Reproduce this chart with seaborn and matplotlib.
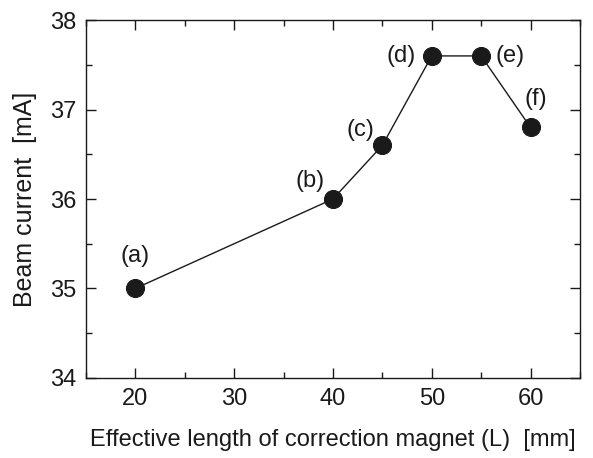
import matplotlib
matplotlib.use("Agg")
import matplotlib.pyplot as plt
import seaborn as sns
import pandas as pd
from matplotlib.ticker import MultipleLocator

length_mm = [20, 40, 45, 50, 55, 60]
beam_current = [35.0, 36.0, 36.6, 37.6, 37.6, 36.8]
labels = ["(a)", "(b)", "(c)", "(d)", "(e)", "(f)"]

sns.set_theme(style="ticks")
plt.rcParams['font.family'] = ['Liberation Sans', 'DejaVu Sans']

df = pd.DataFrame({"L": length_mm, "I": beam_current})

fig = plt.figure(figsize=(5.93, 4.58), dpi=100)
ax = fig.add_axes([0.145, 0.175, 0.833, 0.781])

sns.lineplot(data=df, x="L", y="I", ax=ax, color="#1a1a1a", linewidth=1.0,
             marker="o", markersize=13, markeredgecolor="#1a1a1a",
             markerfacecolor="#1a1a1a", sort=False)

offsets = [(0, 32), (-23, 18), (-22, 15), (-31, 0), (29, 0), (5, 28)]
for x, y, lab, off in zip(length_mm, beam_current, labels, offsets):
    ax.annotate(lab, (x, y), xytext=off, textcoords="offset pixels",
                ha="center", va="center", fontsize=17, color="#1a1a1a")

ax.set_xlim(15, 65)
ax.set_ylim(34, 38)
ax.xaxis.set_major_locator(MultipleLocator(10))
ax.xaxis.set_minor_locator(MultipleLocator(5))
ax.yaxis.set_major_locator(MultipleLocator(1))
ax.yaxis.set_minor_locator(MultipleLocator(0.5))
ax.tick_params(which="both", direction="in", top=True, right=True,
               color="#1a1a1a", width=1.0)
ax.tick_params(which="major", length=7, labelsize=17, labelcolor="#1a1a1a", pad=7)
ax.tick_params(which="minor", length=4)
for s in ax.spines.values():
    s.set_color("#1a1a1a")
    s.set_linewidth(1.0)

ax.set_xlabel("Effective length of correction magnet (L)  [mm]", fontsize=17,
              color="#1a1a1a", labelpad=14)
ax.set_ylabel("Beam current  [mA]", fontsize=18, color="#1a1a1a", labelpad=9)

fig.savefig("out.png", dpi=100)
